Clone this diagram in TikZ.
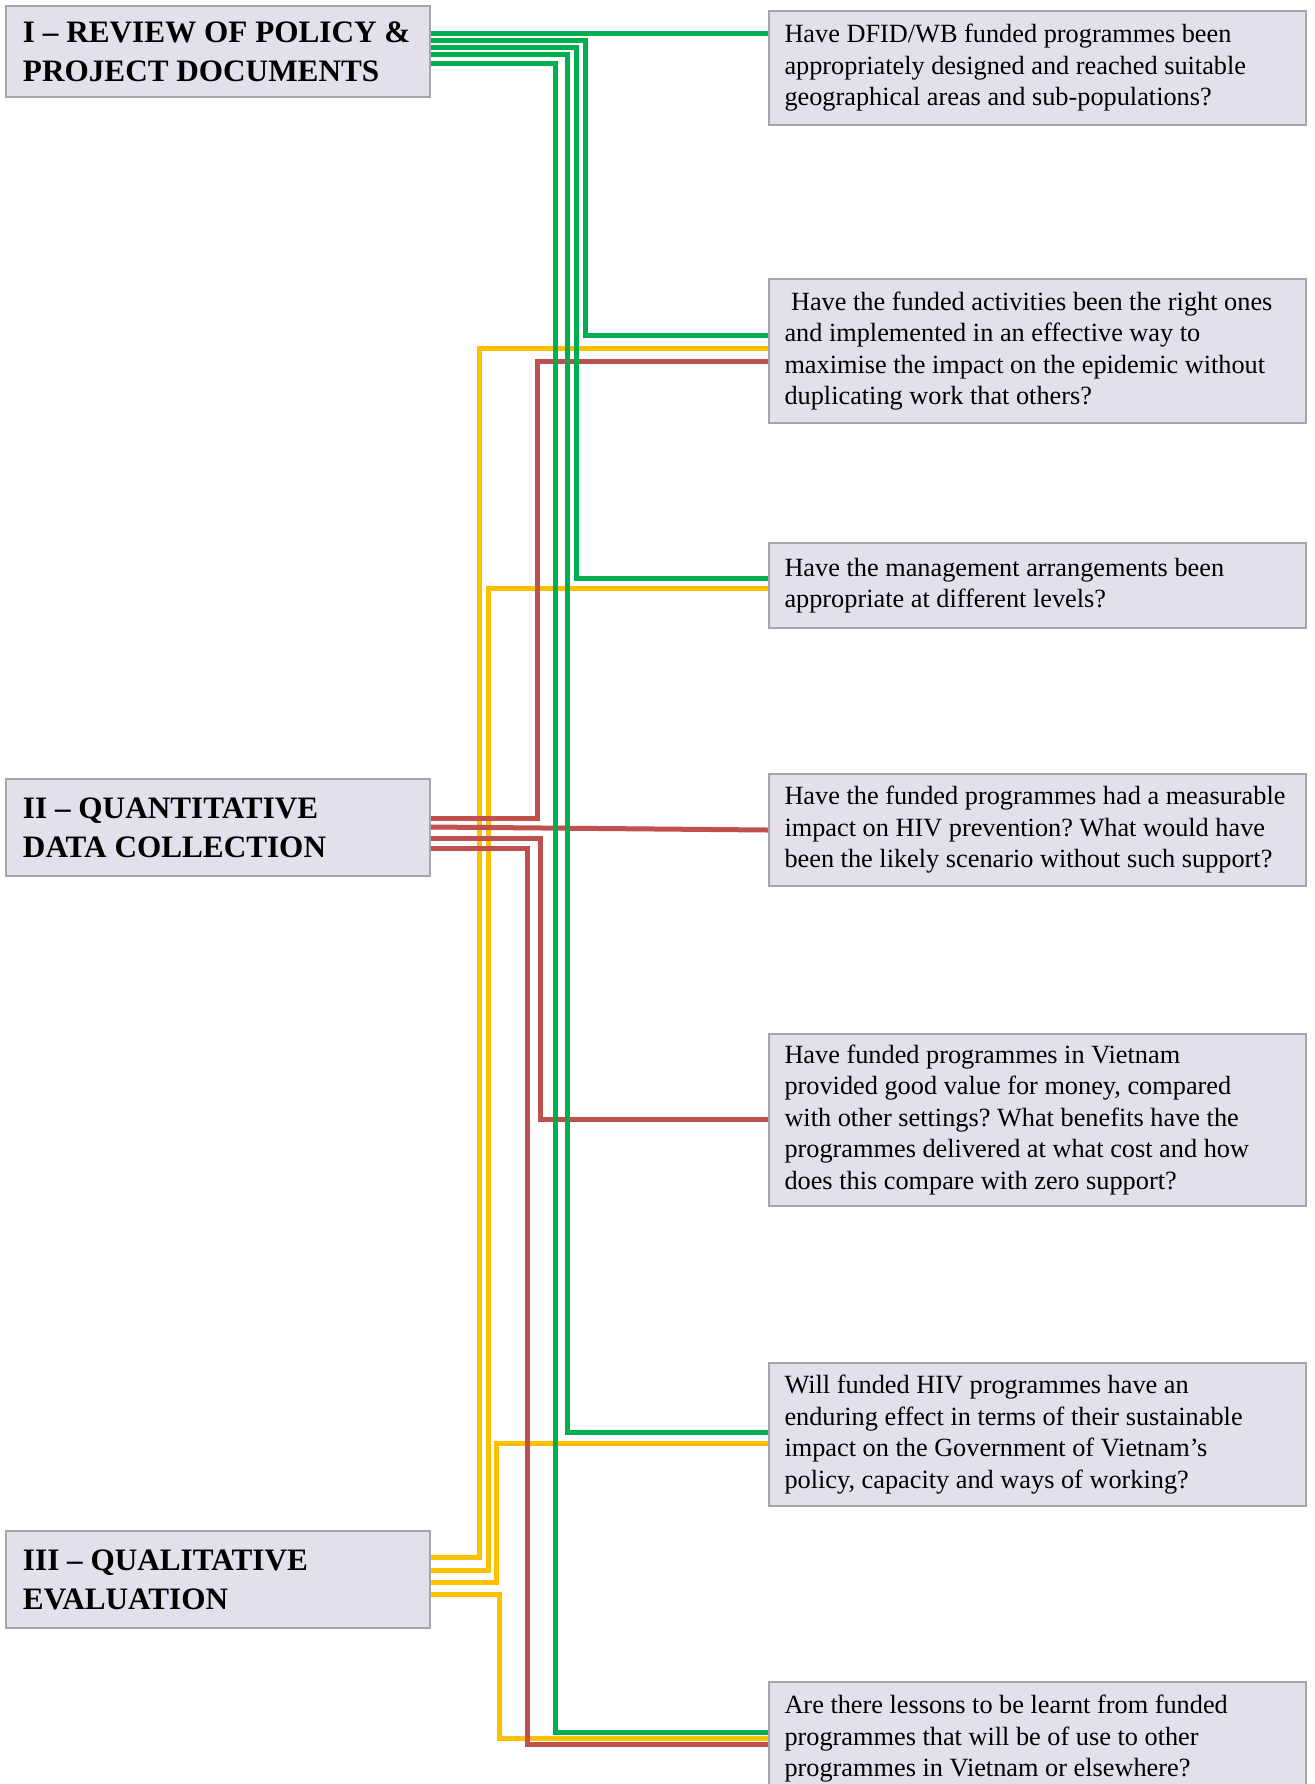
\documentclass[tikz,border=0pt]{standalone}
\usepackage{fontspec}
\setmainfont{Liberation Serif}
\usepackage{tikz}
\usetikzlibrary{positioning}
\usepackage{xcolor}
\definecolor{boxfill}{HTML}{E3DFEB}
\definecolor{boxline}{HTML}{A6A6A6}
\definecolor{lgreen}{HTML}{00B050}
\definecolor{lred}{HTML}{C0504D}
\definecolor{lyellow}{HTML}{FFC000}
\frenchspacing
\tikzset{
    phase/.style={
        draw=boxline,
        fill=boxfill,
        line width=1pt,
        text width=195pt,
        inner xsep=8.5pt,
        align=flush left,
        font=\fontsize{15.6}{19.4}\selectfont\bfseries
    },
    question/.style={
        draw=boxline,
        fill=boxfill,
        line width=1pt,
        text width=253pt,
        inner xsep=7.75pt,
        inner ysep=3pt,
        align=flush left,
        font=\fontsize{13.15}{15.75}\selectfont
    },
    link/.style={
        line width=2.5pt
    }
}

\begin{document}
\begin{tikzpicture}[x=0.5pt, y=-0.5pt]
  \useasboundingbox (0,0) rectangle (1314,1784);
  \clip (0,0) rectangle (1314,1784);

  % Phases
  \node[phase, minimum height=45.5pt] (p1) at (218,51.5) {I -- REVIEW OF POLICY \&\\PROJECT DOCUMENTS};
  \node[phase, minimum height=48.5pt] (p2) at (218,827.5) {II -- QUANTITATIVE\\DATA COLLECTION};
  \node[phase, minimum height=48.5pt] (p3) at (218,1579.5) {III -- QUALITATIVE\\EVALUATION};

  % Evaluation questions
  \node[question, minimum height=57pt] (q1) at (1037.5,68) {Have DFID/WB funded programmes been\\appropriately designed and reached suitable\\geographical areas and sub-populations?};
  \node[question, minimum height=72pt] (q2) at (1037.5,351) {\hspace*{0.25em}Have the funded activities been the right ones\\and implemented in an effective way to\\maximise the impact on the epidemic without\\duplicating work that others?};
  \node[question, minimum height=42.5pt] (q3) at (1037.5,585.5) {Have the management arrangements been\\appropriate at different levels?};
  \node[question, minimum height=56pt] (q4) at (1037.5,830) {Have the funded programmes had a measurable\\impact on HIV prevention? What would have\\been the likely scenario without such support?};
  \node[question, minimum height=86pt] (q5) at (1037.5,1120) {Have funded programmes in Vietnam\\provided good value for money, compared\\with other settings? What benefits have the\\programmes delivered at what cost and how\\does this compare with zero support?};
  \node[question, minimum height=71.5pt] (q6) at (1037.5,1434.5) {Will funded HIV programmes have an\\enduring effect in terms of their sustainable\\impact on the Government of Vietnam's\\policy, capacity and ways of working?};
  \node[question, minimum height=57pt] (q7) at (1037.5,1739) {Are there lessons to be learnt from funded\\programmes that will be of use to other\\programmes in Vietnam or elsewhere?};

  % Qualitative evaluation links
  \draw[link, lyellow] (p3.east |- 0,1557) -- (479,1557) |- (q2.west |- 0,348);
  \draw[link, lyellow] (p3.east |- 0,1570) -- (488,1570) |- (q3.west |- 0,588);
  \draw[link, lyellow] (p3.east |- 0,1582) -- (496,1582) |- (q6.west |- 0,1443);
  \draw[link, lyellow] (p3.east |- 0,1594) -- (499,1594) |- (q7.west |- 0,1738);

  % Quantitative data links
  \draw[link, lred] (p2.east |- 0,818) -- (537,818) |- (q2.west |- 0,361);
  \draw[link, lred] (p2.east |- 0,827) -- (q4.west |- 0,830);
  \draw[link, lred] (p2.east |- 0,838) -- (540,838) |- (q5.west |- 0,1119);
  \draw[link, lred] (p2.east |- 0,848) -- (527,848) |- (q7.west |- 0,1744);

  % Document review links
  \draw[link, lgreen] (p1.east |- 0,33) -- (q1.west |- 0,33);
  \draw[link, lgreen] (p1.east |- 0,40) -- (585,40) |- (q2.west |- 0,335);
  \draw[link, lgreen] (p1.east |- 0,47) -- (576,47) |- (q3.west |- 0,578);
  \draw[link, lgreen] (p1.east |- 0,54) -- (567,54) |- (q6.west |- 0,1432);
  \draw[link, lgreen] (p1.east |- 0,63) -- (555,63) |- (q7.west |- 0,1732);
\end{tikzpicture}
\end{document}
